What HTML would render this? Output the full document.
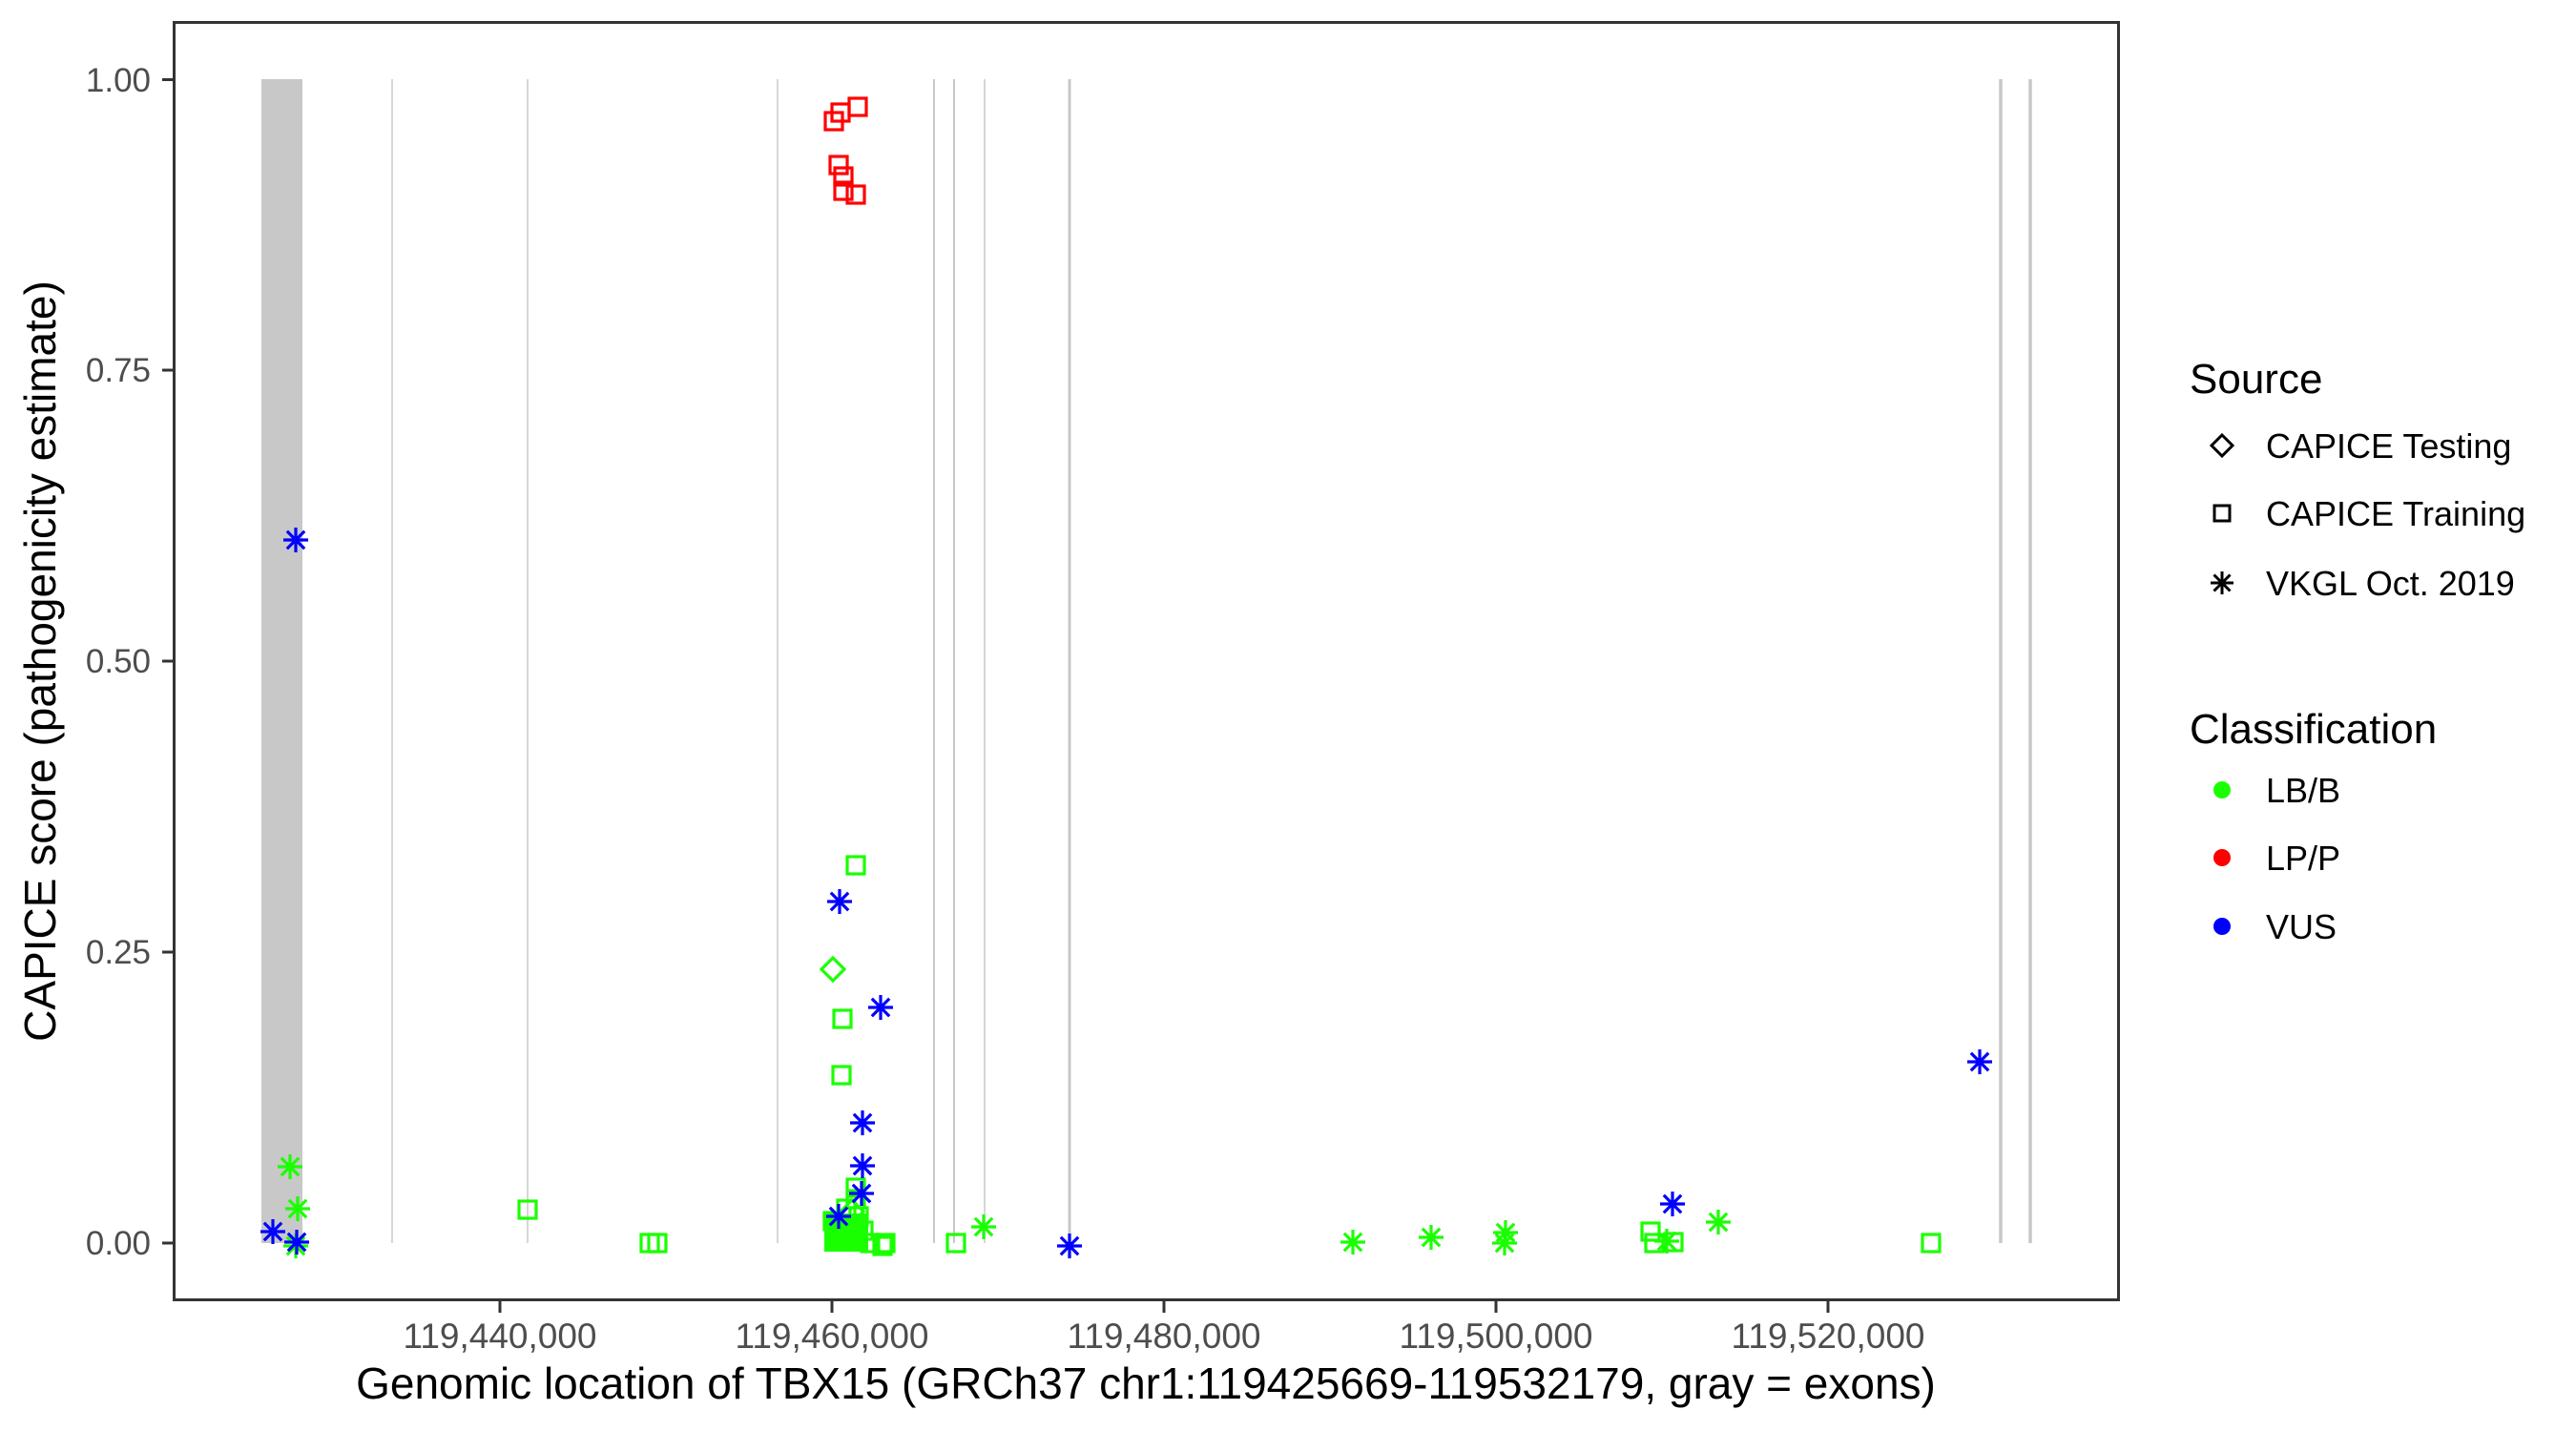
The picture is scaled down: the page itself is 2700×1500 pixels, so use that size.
<!DOCTYPE html>
<html><head><meta charset="utf-8"><style>
html,body{margin:0;padding:0;background:#fff;}
svg{display:block;font-family:"Liberation Sans",sans-serif;}
</style></head><body>
<svg width="2700" height="1500" viewBox="0 0 2700 1500" xmlns="http://www.w3.org/2000/svg">
<defs>
<g id="sq"><rect x="-9" y="-9" width="18" height="18" fill="none" stroke-width="3.2"/></g>
<g id="st"><path d="M0,-13V13M-13,0H13M-9.2,-9.2L9.2,9.2M-9.2,9.2L9.2,-9.2" stroke-width="3.2" fill="none"/></g>
<g id="di"><path d="M0,-12L12,0L0,12L-12,0Z" fill="none" stroke-width="3.2"/></g>
</defs>
<rect width="2700" height="1500" fill="#fff"/>
<g fill="#c8c8c8">
<rect x="274" y="83" width="43" height="1220"/>
</g>
<g stroke="#c8c8c8">
<line x1="411" y1="83" x2="411" y2="1303" stroke-width="1.5"/>
<line x1="553" y1="83" x2="553" y2="1303" stroke-width="1.5"/>
<line x1="815" y1="83" x2="815" y2="1303" stroke-width="1.5"/>
<line x1="979" y1="83" x2="979" y2="1303" stroke-width="2"/>
<line x1="1000" y1="83" x2="1000" y2="1303" stroke-width="2"/>
<line x1="1032" y1="83" x2="1032" y2="1303" stroke-width="1.5"/>
<line x1="1121" y1="83" x2="1121" y2="1303" stroke-width="3"/>
<line x1="2097" y1="83" x2="2097" y2="1303" stroke-width="3.5"/>
<line x1="2128" y1="83" x2="2128" y2="1303" stroke-width="3.5"/>
</g>
<g stroke="#ff0000">
<use href="#sq" x="874" y="127"/><use href="#sq" x="881" y="118"/><use href="#sq" x="899" y="112"/>
<use href="#sq" x="879" y="173"/><use href="#sq" x="884" y="185"/><use href="#sq" x="884" y="200"/><use href="#sq" x="897" y="204"/>
</g>
<g stroke="#1aff00">
<rect x="864" y="1272" width="46" height="40" fill="#1aff00" stroke="none"/>
<use href="#sq" x="873" y="1280"/><use href="#sq" x="887" y="1267"/><use href="#sq" x="897" y="1257"/><use href="#sq" x="897" y="1245"/>
<use href="#sq" x="900" y="1275"/><use href="#sq" x="905" y="1290"/><use href="#sq" x="912" y="1303"/><use href="#sq" x="928" y="1303"/>
<use href="#sq" x="925" y="1306"/><use href="#sq" x="882" y="1127"/><use href="#sq" x="883" y="1068"/><use href="#sq" x="897" y="907"/>
<use href="#di" x="873" y="1016"/><use href="#di" x="893" y="1270"/>
<use href="#sq" x="1002" y="1303"/><use href="#sq" x="681" y="1303"/><use href="#sq" x="689" y="1303"/><use href="#sq" x="553" y="1268"/>
<use href="#sq" x="1730" y="1291"/><use href="#sq" x="1734" y="1303"/><use href="#sq" x="1754" y="1302"/><use href="#sq" x="2024" y="1303"/>
<use href="#st" x="304" y="1223"/><use href="#st" x="312" y="1267"/><use href="#st" x="310" y="1306"/>
<use href="#st" x="1031" y="1286"/><use href="#st" x="1418" y="1302"/><use href="#st" x="1500" y="1297"/>
<use href="#st" x="1578" y="1292"/><use href="#st" x="1577" y="1303"/><use href="#st" x="1747" y="1301"/><use href="#st" x="1801" y="1281"/>
</g>
<g stroke="#0000ff">
<use href="#st" x="310" y="566"/><use href="#st" x="286" y="1291"/><use href="#st" x="311" y="1302"/>
<use href="#st" x="880" y="945"/><use href="#st" x="923" y="1056"/><use href="#st" x="904" y="1177"/><use href="#st" x="904" y="1222"/>
<use href="#st" x="903" y="1251"/><use href="#st" x="879" y="1275"/><use href="#st" x="1121" y="1306"/>
<use href="#st" x="1753" y="1262"/><use href="#st" x="2075" y="1113"/>
</g>
<rect x="182.5" y="23.5" width="2038" height="1339" fill="none" stroke="#333" stroke-width="3"/>
<g stroke="#333" stroke-width="3">
<line x1="170" y1="83.5" x2="182" y2="83.5"/><line x1="170" y1="388" x2="182" y2="388"/>
<line x1="170" y1="693" x2="182" y2="693"/><line x1="170" y1="998" x2="182" y2="998"/>
<line x1="170" y1="1303" x2="182" y2="1303"/>
<line x1="524" y1="1364" x2="524" y2="1376"/><line x1="872" y1="1364" x2="872" y2="1376"/>
<line x1="1220" y1="1364" x2="1220" y2="1376"/><line x1="1568" y1="1364" x2="1568" y2="1376"/>
<line x1="1916" y1="1364" x2="1916" y2="1376"/>
</g>
<g fill="#4d4d4d" font-size="35" text-anchor="end">
<text x="158" y="96">1.00</text><text x="158" y="400">0.75</text><text x="158" y="705">0.50</text>
<text x="158" y="1010">0.25</text><text x="158" y="1315">0.00</text>
</g>
<g fill="#4d4d4d" font-size="37" text-anchor="middle">
<text x="524" y="1413">119,440,000</text><text x="872" y="1413">119,460,000</text><text x="1220" y="1413">119,480,000</text>
<text x="1568" y="1413">119,500,000</text><text x="1916" y="1413">119,520,000</text>
</g>
<text x="1201" y="1466" font-size="46" text-anchor="middle" fill="#000">Genomic location of TBX15 (GRCh37 chr1:119425669-119532179, gray = exons)</text>
<text transform="translate(58,693) rotate(-90)" font-size="46" text-anchor="middle" fill="#000">CAPICE score (pathogenicity estimate)</text>
<g fill="#000">
<text x="2295" y="412" font-size="44">Source</text>
<text x="2375" y="480" font-size="36">CAPICE Testing</text>
<text x="2375" y="551" font-size="36">CAPICE Training</text>
<text x="2375" y="624" font-size="36">VKGL Oct. 2019</text>
<text x="2295" y="779" font-size="44">Classification</text>
<text x="2375" y="841" font-size="36">LB/B</text>
<text x="2375" y="912" font-size="36">LP/P</text>
<text x="2375" y="984" font-size="36">VUS</text>
</g>
<g stroke="#000">
<path d="M2329,456L2340,467L2329,478L2318,467Z" fill="none" stroke-width="3"/>
<rect x="2321" y="530" width="16" height="16" fill="none" stroke-width="3"/>
<path d="M2329,599V623M2317,611H2341M2320.5,602.5L2337.5,619.5M2320.5,619.5L2337.5,602.5" stroke-width="3"/>
</g>
<circle cx="2329" cy="828" r="9" fill="#1aff00"/>
<circle cx="2329" cy="899" r="9" fill="#ff0000"/>
<circle cx="2329" cy="971" r="9" fill="#0000ff"/>
</svg>
</body></html>
